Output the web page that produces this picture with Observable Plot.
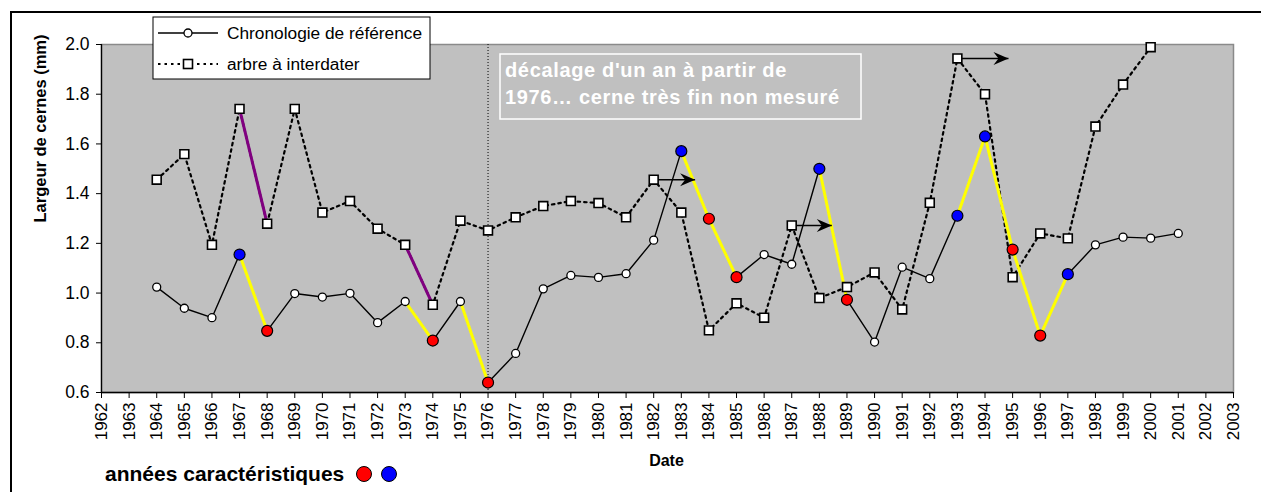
<!DOCTYPE html>
<html><head><meta charset="utf-8">
<script src="https://cdn.jsdelivr.net/npm/d3@7"></script>
<script src="https://cdn.jsdelivr.net/npm/@observablehq/plot@0.6"></script>
<style>
body{margin:0;background:#fff;}
#chart{position:relative;width:1261px;height:492px;overflow:hidden;}
</style>
</head><body><div id="chart"></div>
<script>
// ---- data ----
const tickYears = [1962,1963,1964,1965,1966,1967,1968,1969,1970,1971,1972,1973,1974,1975,1976,1977,1978,1979,1980,1981,1982,1983,1984,1985,1986,1987,1988,1989,1990,1991,1992,1993,1994,1995,1996,1997,1998,1999,2000,2001,2002,2003];
const yTicks = [0.6,0.8,1.0,1.2,1.4,1.6,1.8,2.0];
const refYears = [1964,1965,1966,1967,1968,1969,1970,1971,1972,1973,1974,1975,1976,1977,1978,1979,1980,1981,1982,1983,1984,1985,1986,1987,1988,1989,1990,1991,1992,1993,1994,1995,1996,1997,1998,1999,2000,2001];
const refValues = [1.024,0.939,0.901,1.155,0.848,0.998,0.984,0.999,0.881,0.966,0.809,0.966,0.640,0.757,1.017,1.071,1.063,1.078,1.213,1.571,1.299,1.064,1.155,1.116,1.500,0.973,0.803,1.104,1.058,1.311,1.630,1.175,0.829,1.076,1.194,1.225,1.221,1.240];
const treeYears = [1964,1965,1966,1967,1968,1969,1970,1971,1972,1973,1974,1975,1976,1977,1978,1979,1980,1981,1982,1983,1984,1985,1986,1987,1988,1989,1990,1991,1992,1993,1994,1995,1996,1997,1998,1999,2000];
const treeValues = [1.456,1.559,1.194,1.741,1.279,1.741,1.324,1.370,1.259,1.194,0.953,1.291,1.252,1.305,1.350,1.370,1.362,1.305,1.456,1.324,0.850,0.959,0.901,1.272,0.980,1.024,1.083,0.934,1.363,1.944,1.800,1.064,1.240,1.220,1.670,1.839,1.989];
const redYears = [1968,1974,1976,1984,1985,1989,1995,1996];
const blueYears = [1967,1983,1988,1993,1994,1997];
const yellowStarts = [1967,1973,1975,1983,1984,1988,1993,1994,1995,1996]; // reference segments year -> year+1
const purpleStarts = [1967,1973]; // tree segments year -> year+1
const arrowStarts = [1982,1987,1993];
const arrowEnds = [1983.5,1988.45,1994.85];
const shiftYear = 1976;
const seriesNames = ["Chronologie de référence","arbre à interdater"];
const noteLines = ["décalage d'un an à partir de","1976… cerne très fin non mesuré"];
const yLabel = "Largeur de cernes (mm)";
const xLabel = "Date";
const keyLabel = "années caractéristiques";

// ---- derived tables ----
const ref = refYears.map((y,i)=>({year:y,value:refValues[i]}));
const tree = treeYears.map((y,i)=>({year:y,value:treeValues[i]}));
const refAt = y => refValues[refYears.indexOf(y)];
const treeAt = y => treeValues[treeYears.indexOf(y)];
const yellow = yellowStarts.map(y=>({x1:y,y1:refAt(y),x2:y+1,y2:refAt(y+1)}));
const purple = purpleStarts.map(y=>({x1:y,y1:treeAt(y),x2:y+1,y2:treeAt(y+1)}));
const plain = ref.filter(d=>!redYears.includes(d.year)&&!blueYears.includes(d.year));
const reds = ref.filter(d=>redYears.includes(d.year));
const blues = ref.filter(d=>blueYears.includes(d.year));
const arrows = arrowStarts.map((y,i)=>({x1:y,y1:treeAt(y),x2:arrowEnds[i]}));
const stealth = {draw(ctx){ctx.moveTo(0,0);ctx.lineTo(-15,-6.5);ctx.lineTo(-10,0);ctx.lineTo(-15,6.5);ctx.closePath();}};

const FONT = "'Liberation Sans', Arial, sans-serif";
const plot = Plot.plot({
  width:1261, height:492,
  marginLeft:101, marginRight:28, marginTop:44, marginBottom:100,
  style:{fontFamily:FONT, fontSize:"17px", background:"transparent", color:"#000"},
  x:{domain:[1962,2003]},
  y:{domain:[0.6,2.0]},
  marks:[
    Plot.frame({fill:"#c0c0c0", stroke:"#8a8a8a", strokeWidth:1.5}),
    Plot.ruleX([1962],{stroke:"#000", strokeWidth:1.3}),
    Plot.ruleY([0.6],{stroke:"#000", strokeWidth:1.3}),
    Plot.ruleX([shiftYear],{stroke:"#000", strokeWidth:1, strokeDasharray:"1,2"}),
    Plot.axisY({ticks:yTicks, tickFormat:d=>d.toFixed(1), tickSize:5, tickPadding:7, label:null, fontSize:17.5}),
    Plot.axisX({ticks:tickYears, tickFormat:d=>String(d), tickRotate:-90, tickSize:6, tickPadding:4, label:null, fontSize:17}),
    Plot.line(tree,{x:"year", y:"value", stroke:"#000", strokeWidth:2.2, strokeDasharray:"2.5,4"}),
    Plot.line(ref,{x:"year", y:"value", stroke:"#000", strokeWidth:1.4}),
    Plot.link(purple,{x1:"x1",y1:"y1",x2:"x2",y2:"y2", stroke:"#800080", strokeWidth:3}),
    Plot.link(yellow,{x1:"x1",y1:"y1",x2:"x2",y2:"y2", stroke:"#ffff00", strokeWidth:3}),
    Plot.link(arrows,{x1:"x1",y1:"y1",x2:"x2",y2:"y1", stroke:"#000", strokeWidth:1.5}),
    Plot.dot(arrows,{x:"x2", y:"y1", symbol:stealth, fill:"#000", stroke:"none"}),
    Plot.dot(tree,{x:"year", y:"value", symbol:"square", r:5, fill:"#fff", stroke:"#000", strokeWidth:1.6}),
    Plot.dot(plain,{x:"year", y:"value", r:4, fill:"#fff", stroke:"#000", strokeWidth:1.3}),
    Plot.dot(reds,{x:"year", y:"value", r:5.5, fill:"#ff0000", stroke:"#000", strokeWidth:1.2}),
    Plot.dot(blues,{x:"year", y:"value", r:5.5, fill:"#0000ff", stroke:"#000", strokeWidth:1.2}),
    Plot.text([yLabel],{frameAnchor:"left", dx:-61, dy:4, rotate:-90, fontWeight:"bold", fontSize:16.5}),
    Plot.text([xLabel],{frameAnchor:"bottom", dx:-1, dy:73, fontWeight:"bold", fontSize:16})
  ]
});
document.getElementById("chart").appendChild(plot);

// ---- overlays: outer border, legends, note ----
const svg = d3.select(plot);
const g = svg.append("g");
g.append("path").attr("d","M11,520 V12 H1300").attr("fill","none").attr("stroke","#000").attr("stroke-width",2);
// series legend
const lg = svg.append("g").attr("font-family",FONT).attr("font-size",17.3).attr("text-anchor","start");
lg.append("rect").attr("x",153).attr("y",17).attr("width",277).attr("height",62).attr("fill","#fff").attr("stroke","#000").attr("stroke-width",1);
lg.append("line").attr("x1",158).attr("x2",218).attr("y1",33).attr("y2",33).attr("stroke","#000").attr("stroke-width",1.4);
lg.append("circle").attr("cx",188).attr("cy",33).attr("r",4).attr("fill","#fff").attr("stroke","#000").attr("stroke-width",1.3);
lg.append("text").attr("x",227).attr("y",39).text(seriesNames[0]);
lg.append("line").attr("x1",158).attr("x2",218).attr("y1",64).attr("y2",64).attr("stroke","#000").attr("stroke-width",2.2).attr("stroke-dasharray","2.5,4");
lg.append("rect").attr("x",183.5).attr("y",59.5).attr("width",9).attr("height",9).attr("fill","#fff").attr("stroke","#000").attr("stroke-width",1.6);
lg.append("text").attr("x",227).attr("y",70).text(seriesNames[1]);
// note box
const nb = svg.append("g").attr("font-family",FONT).attr("font-size",20).attr("font-weight","bold").attr("fill","#fff").attr("text-anchor","start").attr("letter-spacing","0.65px");
nb.append("rect").attr("x",500).attr("y",54).attr("width",361).attr("height",65).attr("fill","none").attr("stroke","#fff").attr("stroke-width",1.5);
nb.append("text").attr("x",505).attr("y",77).text(noteLines[0]);
nb.append("text").attr("x",505).attr("y",104).text(noteLines[1]);
// characteristic years key
const kg = svg.append("g").attr("font-family",FONT).attr("text-anchor","start");
kg.append("text").attr("x",105).attr("y",481).attr("font-size",21).attr("font-weight","bold").text(keyLabel);
kg.append("circle").attr("cx",364).attr("cy",474).attr("r",7.5).attr("fill","#ff0000").attr("stroke","#000").attr("stroke-width",1);
kg.append("circle").attr("cx",389).attr("cy",474).attr("r",7.5).attr("fill","#0000ff").attr("stroke","#000").attr("stroke-width",1);
</script>
</body></html>
